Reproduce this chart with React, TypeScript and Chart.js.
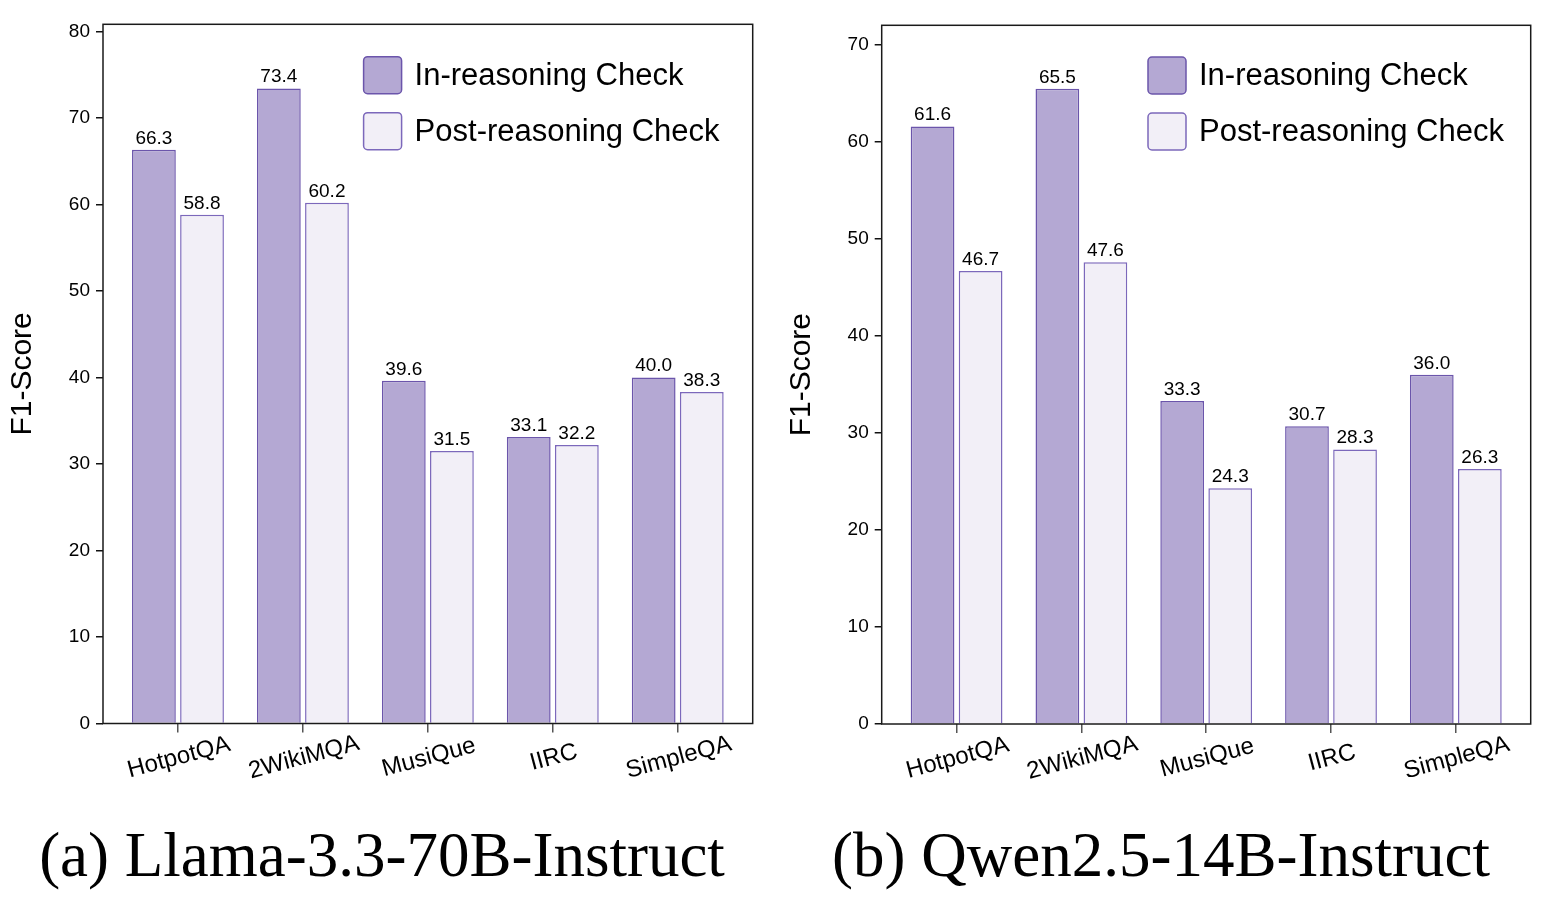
import React, { useEffect, useRef } from "react";
import { Chart, registerables } from "chart.js";

Chart.register(...registerables);

// ---- data ----
const categories = ["HotpotQA", "2WikiMQA", "MusiQue", "IIRC", "SimpleQA"];
const seriesNames = ["In-reasoning Check", "Post-reasoning Check"];

const llamaInReasoning = [66.3, 73.4, 39.6, 33.1, 40.0];
const llamaPostReasoning = [58.8, 60.2, 31.5, 32.2, 38.3];
const llamaTicks = [0, 10, 20, 30, 40, 50, 60, 70, 80];

const qwenInReasoning = [61.6, 65.5, 33.3, 30.7, 36.0];
const qwenPostReasoning = [46.7, 47.6, 24.3, 28.3, 26.3];
const qwenTicks = [0, 10, 20, 30, 40, 50, 60, 70];

const yTitle = "F1-Score";
const captions = ["(a) Llama-3.3-70B-Instruct", "(b) Qwen2.5-14B-Instruct"];

// ---- styles ----
const SANS = "'Liberation Sans', Arial, Helvetica, sans-serif";
const SERIF = "'Liberation Serif', 'Times New Roman', Times, serif";
const IN_FILL = "#b4a8d3";
const IN_EDGE = "#6b55ab";
const POST_FILL = "#f2eff7";
const POST_EDGE = "#7c68bb";
const FRAME = "#1a1a1a";

type PanelLayout = {
  left: number;
  width: number;
  height: number;
  padTop: number;
  padRight: number;
  yAxisWidth: number;
  xAxisHeight: number;
  titlePad: number;
  legendX: number;
  legendY: number;
};

type PanelProps = {
  inValues: number[];
  postValues: number[];
  yMax: number;
  yTicks: number[];
  layout: PanelLayout;
};

// Black frame around the plotting area
const framePlugin = {
  id: "frame",
  afterDatasetsDraw(chart: any) {
    const { ctx, chartArea: a } = chart;
    ctx.save();
    ctx.strokeStyle = FRAME;
    ctx.lineWidth = 1.5;
    ctx.strokeRect(a.left, a.top, a.right - a.left, a.bottom - a.top);
    ctx.restore();
  },
};

// Numbers above each bar
const valueLabelPlugin = {
  id: "valueLabels",
  afterDatasetsDraw(chart: any) {
    const { ctx } = chart;
    ctx.save();
    ctx.font = `19px ${SANS}`;
    ctx.fillStyle = "#000";
    ctx.textAlign = "center";
    ctx.textBaseline = "alphabetic";
    chart.data.datasets.forEach((ds: any, di: number) => {
      const meta = chart.getDatasetMeta(di);
      meta.data.forEach((bar: any, i: number) => {
        const v = ds.data[i].y as number;
        ctx.fillText(v.toFixed(1), bar.x, bar.y - 6);
      });
    });
    ctx.restore();
  },
};

// Rotated category names centred under each tick
const categoryLabelPlugin = {
  id: "categoryLabels",
  afterDraw(chart: any) {
    const { ctx, chartArea } = chart;
    const xs = chart.scales.x;
    ctx.save();
    ctx.font = `24px ${SANS}`;
    ctx.fillStyle = "#000";
    ctx.textAlign = "center";
    ctx.textBaseline = "middle";
    categories.forEach((name, i) => {
      const x = xs.getPixelForValue(i);
      ctx.save();
      ctx.translate(x + 1, chartArea.bottom + 34);
      ctx.rotate((-15 * Math.PI) / 180);
      ctx.fillText(name, 0, 0);
      ctx.restore();
    });
    ctx.restore();
  },
};

// Legend drawn inside the plot, upper right
const insideLegendPlugin = {
  id: "insideLegend",
  afterDraw(chart: any) {
    const { ctx, chartArea } = chart;
    const opts = chart.options.plugins.insideLegend || {};
    const x0 = chartArea.left + (opts.x ?? 260);
    const y0 = chartArea.top + (opts.y ?? 32);
    const bw = 38;
    const bh = 37;
    const rowGap = 56;
    ctx.save();
    ctx.font = `31px ${SANS}`;
    ctx.textAlign = "left";
    ctx.textBaseline = "middle";
    chart.data.datasets.forEach((ds: any, i: number) => {
      const top = y0 + i * rowGap;
      ctx.beginPath();
      ctx.roundRect(x0, top, bw, bh, 4);
      ctx.fillStyle = ds.backgroundColor;
      ctx.fill();
      ctx.lineWidth = 1.5;
      ctx.strokeStyle = ds.borderColor;
      ctx.stroke();
      ctx.fillStyle = "#000";
      ctx.fillText(ds.label, x0 + 51, top + bh / 2 + 1);
    });
    ctx.restore();
  },
};

function Panel({ inValues, postValues, yMax, yTicks, layout }: PanelProps) {
  const ref = useRef<HTMLCanvasElement | null>(null);

  useEffect(() => {
    if (!ref.current) return;
    const chart = new Chart(ref.current, {
      type: "bar",
      data: {
        datasets: [
          {
            label: seriesNames[0],
            data: inValues.map((v, i) => ({ x: i, y: v })),
            backgroundColor: IN_FILL,
            borderColor: IN_EDGE,
            borderWidth: 1.5,
          },
          {
            label: seriesNames[1],
            data: postValues.map((v, i) => ({ x: i, y: v })),
            backgroundColor: POST_FILL,
            borderColor: POST_EDGE,
            borderWidth: 1.5,
          },
        ],
      } as any,
      options: {
        animation: false,
        responsive: false,
        maintainAspectRatio: false,
        layout: {
          padding: { left: 0, right: layout.padRight, top: layout.padTop, bottom: 0 },
        },
        datasets: {
          bar: { categoryPercentage: 0.77, barPercentage: 0.91 },
        },
        plugins: {
          legend: { display: false },
          tooltip: { enabled: false },
          insideLegend: { x: layout.legendX, y: layout.legendY },
        } as any,
        scales: {
          x: {
            type: "linear",
            min: -0.6,
            max: categories.length - 1 + 0.6,
            offset: false,
            afterBuildTicks: (s: any) => {
              s.ticks = categories.map((_, i) => ({ value: i }));
            },
            afterFit: (s: any) => {
              s.height = layout.xAxisHeight;
            },
            ticks: { display: false },
            grid: {
              offset: false,
              drawOnChartArea: false,
              drawTicks: true,
              tickLength: 9,
              color: "#555",
              lineWidth: 1.5,
            },
            border: { display: false },
          },
          y: {
            min: 0,
            max: yMax,
            afterBuildTicks: (s: any) => {
              s.ticks = yTicks.map((v) => ({ value: v }));
            },
            afterFit: (s: any) => {
              s.width = layout.yAxisWidth;
            },
            ticks: {
              font: { family: SANS, size: 19 },
              color: "#000",
              padding: 6,
            },
            grid: {
              drawOnChartArea: false,
              drawTicks: true,
              tickLength: 7,
              color: "#111",
              lineWidth: 1.5,
            },
            border: { display: false },
            title: {
              display: true,
              text: yTitle,
              font: { family: SANS, size: 30 },
              color: "#000",
              padding: { top: layout.titlePad, bottom: 0 },
            },
          },
        },
      } as any,
      plugins: [framePlugin, valueLabelPlugin, categoryLabelPlugin, insideLegendPlugin],
    });
    return () => chart.destroy();
  }, [inValues, postValues, yMax, yTicks, layout]);

  return (
    <canvas
      ref={ref}
      width={layout.width}
      height={layout.height}
      style={{
        position: "absolute",
        left: layout.left,
        top: 0,
        width: layout.width,
        height: layout.height,
      }}
    />
  );
}

const llamaLayout: PanelLayout = {
  left: 0,
  width: 773,
  height: 800,
  padTop: 24.3,
  padRight: 20.3,
  yAxisWidth: 103,
  xAxisHeight: 76.5,
  titlePad: 4.5,
  legendX: 260.6,
  legendY: 32.4,
};

const qwenLayout: PanelLayout = {
  left: 773,
  width: 774,
  height: 800,
  padTop: 25.3,
  padRight: 16.3,
  yAxisWidth: 108.7,
  xAxisHeight: 76,
  titlePad: 11,
  legendX: 266.3,
  legendY: 31.7,
};

const captionStyle = (center: number): React.CSSProperties => ({
  position: "absolute",
  left: center - 400,
  width: 800,
  top: 824,
  textAlign: "center",
  fontFamily: SERIF,
  fontSize: 63,
  lineHeight: "63px",
  color: "#000",
  whiteSpace: "nowrap",
});

export default function App() {
  return (
    <div
      style={{
        position: "absolute",
        left: 0,
        top: 0,
        width: 1547,
        height: 910,
        background: "#fff",
        overflow: "hidden",
      }}
    >
      <Panel
        inValues={llamaInReasoning}
        postValues={llamaPostReasoning}
        yMax={80.81}
        yTicks={llamaTicks}
        layout={llamaLayout}
      />
      <Panel
        inValues={qwenInReasoning}
        postValues={qwenPostReasoning}
        yMax={72.03}
        yTicks={qwenTicks}
        layout={qwenLayout}
      />
      <div style={captionStyle(382)}>{captions[0]}</div>
      <div style={captionStyle(1161)}>{captions[1]}</div>
    </div>
  );
}
